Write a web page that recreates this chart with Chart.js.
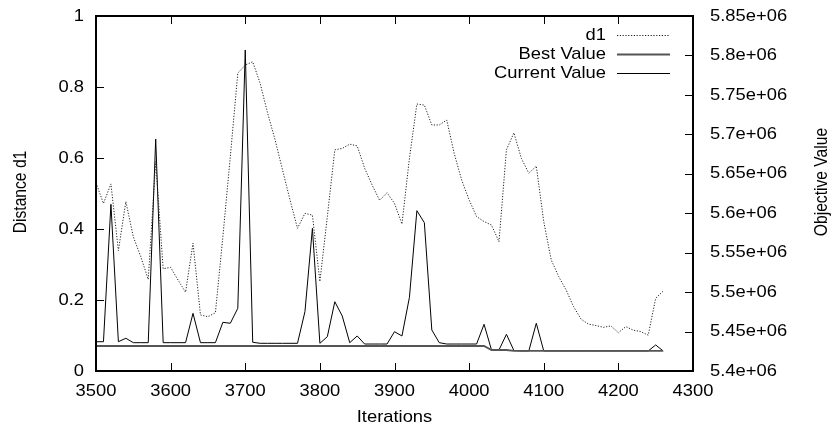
<!DOCTYPE html>
<html>
<head>
<meta charset="utf-8">
<script src="https://cdn.jsdelivr.net/npm/chart.js@4"></script>
<style>
  html, body { margin: 0; padding: 0; background: #fff; }
</style>
</head>
<body>
<canvas id="grafico" width="833" height="428"></canvas>
<script>
// iteraciones (eje x), una muestra cada 10
const iteraciones = [
  3500, 3510, 3520, 3530, 3540, 3550, 3560, 3570, 3580, 3590,
  3600, 3610, 3620, 3630, 3640, 3650, 3660, 3670, 3680, 3690,
  3700, 3710, 3720, 3730, 3740, 3750, 3760, 3770, 3780, 3790,
  3800, 3810, 3820, 3830, 3840, 3850, 3860, 3870, 3880, 3890,
  3900, 3910, 3920, 3930, 3940, 3950, 3960, 3970, 3980, 3990,
  4000, 4010, 4020, 4030, 4040, 4050, 4060, 4070, 4080, 4090,
  4100, 4110, 4120, 4130, 4140, 4150, 4160, 4170, 4180, 4190,
  4200, 4210, 4220, 4230, 4240, 4250, 4260
];

// distancia d1 (eje izquierdo)
const d1 = [
  0.530, 0.472, 0.527, 0.339, 0.477, 0.378, 0.322, 0.258, 0.590, 0.288,
  0.292, 0.256, 0.222, 0.360, 0.158, 0.153, 0.164, 0.378, 0.604, 0.839,
  0.862, 0.871, 0.810, 0.726, 0.651, 0.566, 0.482, 0.402, 0.444, 0.439,
  0.252, 0.435, 0.623, 0.627, 0.639, 0.634, 0.571, 0.524, 0.481, 0.502,
  0.472, 0.414, 0.599, 0.752, 0.749, 0.693, 0.693, 0.707, 0.613, 0.538,
  0.482, 0.435, 0.421, 0.411, 0.364, 0.623, 0.671, 0.599, 0.557, 0.577,
  0.421, 0.313, 0.266, 0.228, 0.181, 0.146, 0.132, 0.128, 0.123, 0.127,
  0.108, 0.125, 0.115, 0.111, 0.101, 0.205, 0.225
];

// mejor valor (eje derecho)
const mejorValor = [
  5431700, 5431700, 5431700, 5431700, 5431700, 5431700, 5431700, 5431700, 5431700, 5431700,
  5431700, 5431700, 5431700, 5431700, 5431700, 5431700, 5431700, 5431700, 5431700, 5431700,
  5431700, 5431700, 5431700, 5431700, 5431700, 5431700, 5431700, 5431700, 5431700, 5431700,
  5431700, 5431700, 5431700, 5431700, 5431700, 5431700, 5431700, 5431700, 5431700, 5431700,
  5431700, 5431700, 5431700, 5431700, 5431700, 5431700, 5431700, 5431700, 5431700, 5431700,
  5431700, 5431700, 5431700, 5426600, 5426600, 5426600, 5425400, 5425400, 5425400, 5425400,
  5425400, 5425400, 5425400, 5425400, 5425400, 5425400, 5425400, 5425400, 5425400, 5425400,
  5425400, 5425400, 5425400, 5425400, 5425400, 5425400, 5425400
];

// valor actual (eje derecho)
const valorActual = [
  5437100, 5437100, 5611300, 5437100, 5441500, 5435900, 5435900, 5435900, 5694100, 5435900,
  5435900, 5435900, 5435900, 5473100, 5435900, 5435900, 5435900, 5461700, 5460500, 5479500,
  5806900, 5436400, 5435100, 5435100, 5435100, 5435100, 5435100, 5435100, 5475200, 5580900,
  5435100, 5443500, 5487800, 5469700, 5435900, 5444400, 5434200, 5434200, 5434200, 5434200,
  5449800, 5444400, 5493400, 5603200, 5588000, 5452000, 5435900, 5434200, 5434200, 5434200,
  5434200, 5434200, 5459200, 5426600, 5426600, 5446500, 5426000, 5425400, 5425400, 5460500,
  5425400, 5425400, 5425400, 5425400, 5425400, 5425400, 5425400, 5425400, 5425400, 5425400,
  5425400, 5425400, 5425400, 5425400, 5425400, 5433000, 5425400
];

const fuente = '17px "Liberation Sans", Arial, sans-serif';

function puntos(valores) {
  return iteraciones.map((x, i) => ({ x: x, y: valores[i] }));
}

function texto(ctx, s, x, y, align) {
  ctx.save();
  ctx.translate(x, y);
  ctx.scale(1.08, 1);
  ctx.textAlign = align;
  ctx.fillText(s, 0, 0);
  ctx.restore();
}

function textoVertical(ctx, s, x, y) {
  ctx.save();
  ctx.translate(x, y);
  ctx.rotate(-Math.PI / 2);
  ctx.scale(0.92, 1.12);
  ctx.textAlign = 'center';
  ctx.fillText(s, 0, 0);
  ctx.restore();
}

// marco, marcas hacia adentro, etiquetas y leyenda al estilo gnuplot
const marco = {
  id: 'marco',
  afterDraw(chart) {
    const { ctx, chartArea: a, scales } = chart;
    const largo = 8;
    ctx.save();
    ctx.strokeStyle = '#000';
    ctx.fillStyle = '#000';
    ctx.lineWidth = 1;

    ctx.beginPath();
    scales.x.ticks.forEach(t => {
      const px = Math.round(scales.x.getPixelForValue(t.value)) + 0.5;
      ctx.moveTo(px, a.bottom); ctx.lineTo(px, a.bottom - largo);
      ctx.moveTo(px, a.top); ctx.lineTo(px, a.top + largo);
    });
    scales.y.ticks.forEach(t => {
      const py = Math.round(scales.y.getPixelForValue(t.value)) + 0.5;
      ctx.moveTo(a.left, py); ctx.lineTo(a.left + largo, py);
    });
    scales.y2.ticks.forEach(t => {
      const py = Math.round(scales.y2.getPixelForValue(t.value)) + 0.5;
      ctx.moveTo(a.right, py); ctx.lineTo(a.right - largo, py);
    });
    ctx.stroke();

    ctx.lineWidth = 2;
    ctx.strokeRect(a.left, a.top, a.right - a.left, a.bottom - a.top);

    ctx.font = fuente;
    ctx.textBaseline = 'middle';
    scales.x.ticks.forEach(t => {
      texto(ctx, String(t.value), scales.x.getPixelForValue(t.value), a.bottom + 20, 'center');
    });
    scales.y.ticks.forEach(t => {
      texto(ctx, String(Number(t.value.toFixed(2))), a.left - 12, scales.y.getPixelForValue(t.value), 'right');
    });
    scales.y2.ticks.forEach(t => {
      const s = (Math.round(t.value / 1e4) / 100) + 'e+06';
      texto(ctx, s, a.right + 17, scales.y2.getPixelForValue(t.value), 'left');
    });

    texto(ctx, 'Iterations', (a.left + a.right) / 2, 417, 'center');
    textoVertical(ctx, 'Distance d1', 21, 192);
    textoVertical(ctx, 'Objective Value', 822, 182);

    // leyenda
    chart.data.datasets.forEach((ds, i) => {
      const y = 35 + i * 19;
      texto(ctx, ds.label, 606, y, 'right');
      ctx.save();
      ctx.strokeStyle = ds.borderColor;
      ctx.lineWidth = ds.borderWidth;
      ctx.setLineDash(ds.borderDash || []);
      ctx.beginPath();
      ctx.moveTo(617, Math.round(y) + 0.5);
      ctx.lineTo(670, Math.round(y) + 0.5);
      ctx.stroke();
      ctx.restore();
    });
    ctx.restore();
  }
};

const ctx = document.getElementById('grafico').getContext('2d');
const grafico = new Chart(ctx, {
  type: 'line',
  data: {
    datasets: [
      {
        label: 'd1',
        data: puntos(d1),
        yAxisID: 'y',
        borderColor: '#222',
        borderWidth: 1,
        borderDash: [1.2, 1.6],
        pointRadius: 0,
        tension: 0,
        fill: false
      },
      {
        label: 'Best Value',
        data: puntos(mejorValor),
        yAxisID: 'y2',
        borderColor: '#555',
        borderWidth: 1.8,
        pointRadius: 0,
        tension: 0,
        fill: false
      },
      {
        label: 'Current Value',
        data: puntos(valorActual),
        yAxisID: 'y2',
        borderColor: '#000',
        borderWidth: 1,
        pointRadius: 0,
        tension: 0,
        fill: false
      }
    ]
  },
  options: {
    responsive: false,
    devicePixelRatio: 1,
    animation: false,
    layout: { padding: { top: 16, left: 0, right: 0, bottom: 0 } },
    plugins: {
      legend: { display: false },
      tooltip: { enabled: false }
    },
    scales: {
      x: {
        type: 'linear',
        min: 3500,
        max: 4300,
        ticks: { display: false, stepSize: 100 },
        grid: { display: false },
        border: { display: false },
        afterFit: s => { s.height = 57; }
      },
      y: {
        position: 'left',
        min: 0,
        max: 1,
        ticks: { display: false, stepSize: 0.2 },
        grid: { display: false },
        border: { display: false },
        afterFit: s => { s.width = 96; }
      },
      y2: {
        position: 'right',
        min: 5400000,
        max: 5850000,
        ticks: { display: false, stepSize: 50000 },
        grid: { display: false },
        border: { display: false },
        afterFit: s => { s.width = 140; }
      }
    }
  },
  plugins: [marco]
});
</script>
</body>
</html>
